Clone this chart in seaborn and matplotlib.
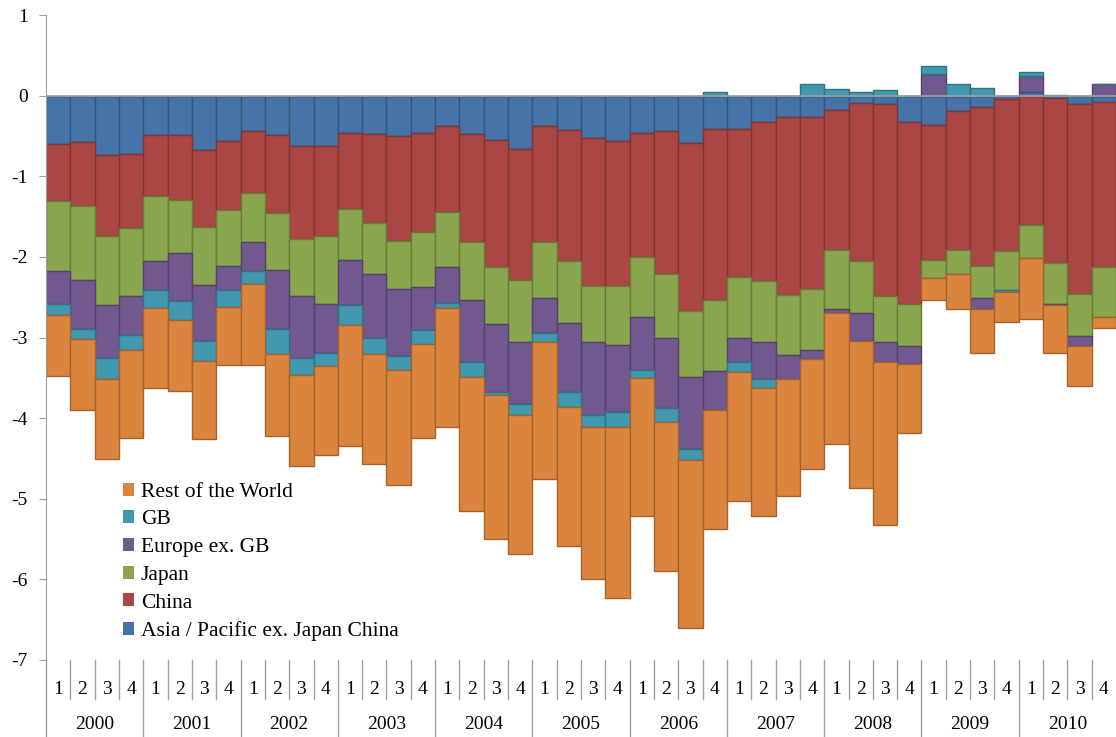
import numpy as np
import pandas as pd
import matplotlib
matplotlib.use("Agg")
import matplotlib.pyplot as plt
import matplotlib.colors as mcolors
from matplotlib.patches import Patch
import seaborn as sns

# quarters 2000Q1 .. 2010Q4
years = [str(y) for y in range(2000, 2011)]
quarters = ["1", "2", "3", "4"]

asia = [-0.60, -0.57, -0.74, -0.72, -0.49, -0.49, -0.67, -0.56, -0.44, -0.49, -0.62, -0.62,
        -0.46, -0.47, -0.50, -0.46, -0.38, -0.47, -0.55, -0.66, -0.38, -0.43, -0.52, -0.56,
        -0.46, -0.44, -0.59, -0.42, -0.42, -0.33, -0.27, -0.27, -0.18, -0.09, -0.10, -0.33,
        -0.37, -0.19, -0.14, -0.04, 0.04, -0.03, -0.11, -0.08]
china = [-0.71, -0.80, -1.00, -0.92, -0.76, -0.80, -0.96, -0.86, -0.77, -0.96, -1.16, -1.12,
         -0.95, -1.11, -1.30, -1.23, -1.06, -1.34, -1.57, -1.63, -1.43, -1.62, -1.84, -1.80,
         -1.54, -1.77, -2.08, -2.12, -1.83, -1.97, -2.20, -2.13, -1.73, -1.96, -2.38, -2.25,
         -1.67, -1.73, -1.97, -1.89, -1.61, -2.04, -2.35, -2.05]
japan = [-0.87, -0.92, -0.86, -0.84, -0.80, -0.66, -0.72, -0.69, -0.60, -0.71, -0.70, -0.85,
         -0.63, -0.63, -0.60, -0.68, -0.69, -0.73, -0.71, -0.77, -0.70, -0.77, -0.69, -0.73,
         -0.74, -0.79, -0.82, -0.88, -0.76, -0.76, -0.75, -0.76, -0.74, -0.64, -0.57, -0.53,
         -0.22, -0.29, -0.40, -0.48, -0.41, -0.51, -0.52, -0.61]
europe = [-0.41, -0.61, -0.66, -0.49, -0.36, -0.60, -0.69, -0.30, -0.37, -0.74, -0.77, -0.60,
          -0.56, -0.79, -0.83, -0.54, -0.44, -0.76, -0.85, -0.77, -0.44, -0.86, -0.91, -0.84,
          -0.66, -0.87, -0.89, -0.48, -0.30, -0.45, -0.30, -0.11, -0.05, -0.35, -0.25, -0.22,
          0.27, 0.00, -0.14, 0.00, 0.20, -0.02, -0.13, 0.14]
gb = [-0.13, -0.12, -0.26, -0.19, -0.22, -0.23, -0.25, -0.21, -0.16, -0.30, -0.22, -0.16,
      -0.25, -0.20, -0.17, -0.17, -0.06, -0.19, -0.03, -0.13, -0.11, -0.18, -0.15, -0.18,
      -0.10, -0.18, -0.14, 0.05, -0.12, -0.12, 0.00, 0.15, 0.08, 0.04, 0.07, 0.00,
      0.10, 0.14, 0.10, -0.02, 0.05, 0.01, 0.00, 0.00]
rest = [-0.76, -0.88, -0.99, -1.09, -1.00, -0.88, -0.97, -0.72, -1.00, -1.02, -1.13, -1.11,
        -1.49, -1.37, -1.43, -1.17, -1.48, -1.66, -1.79, -1.72, -1.70, -1.72, -1.89, -2.12,
        -1.71, -1.85, -2.08, -1.48, -1.60, -1.58, -1.45, -1.36, -1.62, -1.83, -2.03, -0.85,
        -0.28, -0.44, -0.54, -0.38, -0.75, -0.59, -0.49, -0.14]

series_names = ["Asia / Pacific ex. Japan China", "China", "Japan",
                "Europe ex. GB", "GB", "Rest of the World"]
series_vals = [asia, china, japan, europe, gb, rest]
colors = ["#4572A7", "#AA4643", "#89A54E", "#71588F", "#4198AF", "#DB843D"]

labels = [f"{y}-{q}" for y in years for q in quarters]
df = pd.DataFrame({"period": labels})
for name, vals in zip(series_names, series_vals):
    df[name] = vals

plt.rcParams["font.family"] = ["Liberation Serif", "DejaVu Serif"]
fig = plt.figure(figsize=(11.16, 7.37), dpi=100)
ax = fig.add_axes([46 / 1116, 77 / 737, 1070 / 1116, 645 / 737])

# stack positives up from zero and negatives down from zero
pos_base = np.zeros(len(df))
neg_base = np.zeros(len(df))
for name, col in zip(series_names, colors):
    v = df[name].to_numpy()
    bottom = np.where(v >= 0, pos_base, neg_base)
    pos_base = pos_base + np.where(v >= 0, v, 0)
    neg_base = neg_base + np.where(v < 0, v, 0)
    edge = tuple(c * 0.75 for c in mcolors.to_rgb(col))
    sns.barplot(x=df["period"], y=v, bottom=bottom, order=labels, color=col,
                edgecolor=edge, linewidth=1, width=1.0, errorbar=None,
                saturation=1, ax=ax)

ax.set_xlim(-0.5, len(labels) - 0.5)
ax.set_ylim(-7, 1)
ax.set_yticks(range(-7, 2))
ax.set_yticklabels([str(t) for t in range(-7, 2)], fontsize=14)
ax.set_xticks([])
ax.set_xlabel("")
ax.set_ylabel("")
for s in ["top", "right", "bottom"]:
    ax.spines[s].set_visible(False)
ax.spines["left"].set_color("#A0A0A0")
ax.tick_params(axis="y", length=5, color="#A0A0A0", pad=8)
ax.axhline(0, color="#A0A0A0", lw=1.2, zorder=5)

# two-level category axis
tr = ax.get_xaxis_transform()
for i, lab in enumerate(labels):
    y, q = lab.split("-")
    ax.text(i, -0.045, q, transform=tr, ha="center", va="center", fontsize=14)
    if i > 0:
        h = -0.12 if q == "1" else -0.06
        ax.plot([i - 0.5, i - 0.5], [0, h], transform=tr, color="#A0A0A0",
                lw=1, clip_on=False)
for j, y in enumerate(years):
    ax.text(j * 4 + 1.5, -0.1, y, transform=tr, ha="center", va="center", fontsize=14)
ax.plot([-0.5, -0.5], [0, -0.12], transform=tr, color="#A0A0A0", lw=1, clip_on=False)

handles = [Patch(facecolor=c, edgecolor="none", label=n) for n, c in zip(series_names, colors)]
ax.legend(handles=handles[::-1], loc="upper left", bbox_to_anchor=(114 / 1116, 1 - 474 / 737),
          bbox_transform=fig.transFigure, frameon=False, fontsize=15.5,
          handlelength=0.55, handleheight=0.55, handletextpad=0.3, labelspacing=0.4,
          borderaxespad=0)

fig.savefig("out.png", dpi=100)
